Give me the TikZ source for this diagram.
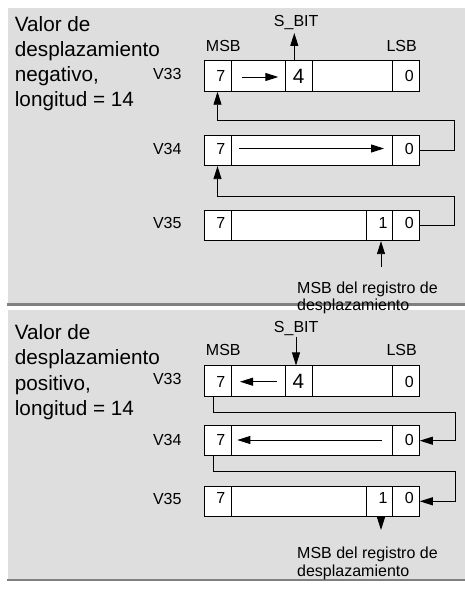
\documentclass[tikz,border=0pt]{standalone}
\usepackage{fontspec}
\setmainfont{Liberation Sans}
\usetikzlibrary{arrows.meta}
\definecolor{panelgray}{HTML}{DEDEDE}
\definecolor{sepgray}{HTML}{808080}
\begin{document}
\begin{tikzpicture}[x=1pt,y=-1pt,
  cell/.style={draw, fill=white, line width=1pt, inner sep=0pt, minimum height=30.5pt},
  bigtxt/.style={font=\fontsize{20.7}{25}\selectfont, inner sep=0pt, anchor=base west},
  smalltxt/.style={font=\fontsize{16}{19.4}\selectfont, inner sep=0pt},
  bigdig/.style={font=\fontsize{20.7}{25}\selectfont, inner sep=0pt},
  arr/.style={line width=0.9pt, -{Triangle[length=13pt,width=8pt]}},
  sepline/.style={sepgray, line width=2.6pt}]
\useasboundingbox (0,0) rectangle (465,591);
% panels
\fill[panelgray] (8,8) rectangle (465,303.4);
\draw[sepline] (7,304.7) -- (465,304.7);
\fill[panelgray] (8,310) rectangle (465,578.6);
\draw[sepline] (7,579.8) -- (465,579.8);

% ================= Panel 1 =================
\node[bigtxt] (t1a) at (14.7,31.7) {Valor de};
\node[bigtxt] (t1b) at (14.7,56.7) {desplazamiento};
\node[bigtxt] (t1c) at (14.7,81.7) {negativo,};
\node[bigtxt] (t1d) at (14.7,106.7) {longitud = 14};

\node[smalltxt, anchor=base] (sb1) at (296.2,26.7) {S\_BIT};
\node[smalltxt] (msb1) at (223.3,45.9) {MSB};
\node[smalltxt] (lsb1) at (401.7,45.9) {LSB};
\node[smalltxt, anchor=east] (v331) at (181.7,74.2) {V33};
\node[smalltxt, anchor=east] (v341) at (181.7,148.8) {V34};
\node[smalltxt, anchor=east] (v351) at (181.7,222.8) {V35};

% V33
\node[cell, minimum width=27pt] (p1a7) at (217.5,76) {};
\node[cell, minimum width=54pt] (p1aM) at (258,76) {};
\node[cell, minimum width=27pt] (p1a4) at (298.5,76) {};
\node[cell, minimum width=80.5pt] (p1aB) at (352.25,76) {};
\node[cell, minimum width=26.8pt] (p1a0) at (405.9,76) {};
\node[smalltxt] (d1a7) at (220.7,76) {7};
\node[bigdig] (d1a4) at (298.7,76) {4};
\node[smalltxt] (d1a0) at (409.2,76) {0};
% V34
\node[cell, minimum width=27pt] (p1b7) at (217.5,150.4) {};
\node[cell, minimum width=161.5pt] (p1bM) at (311.75,150.4) {};
\node[cell, minimum width=26.8pt] (p1b0) at (405.9,150.4) {};
\node[smalltxt] (d1b7) at (220.7,148.8) {7};
\node[smalltxt] (d1b0) at (409.2,148.8) {0};
% V35
\node[cell, minimum width=27pt] (p1c7) at (217.5,225.4) {};
\node[cell, minimum width=135.7pt] (p1cM) at (298.85,225.4) {};
\node[cell, minimum width=25.8pt] (p1c1) at (379.6,225.4) {};
\node[cell, minimum width=26.8pt] (p1c0) at (405.9,225.4) {};
\node[smalltxt] (d1c7) at (220.7,222.6) {7};
\node[smalltxt] (d1c1) at (383,222.6) {1};
\node[smalltxt] (d1c0) at (409.2,222.6) {0};

\coordinate (s1t) at (294.3,33);
\draw[arr] (p1a4.north -| s1t) -- (s1t);
\coordinate (i1a) at (241.7,77);
\coordinate (i1b) at (278.3,77);
\draw[arr] (i1a) -- (i1b);
\coordinate (i1c) at (239.3,148.5);
\coordinate (i1d) at (384,148.5);
\draw[arr] (i1c) -- (i1d);
\coordinate (k1) at (454,120);
\draw[arr] (p1b0.east) -| (k1) -| (p1a7.south);
\coordinate (k2) at (454,196);
\draw[arr] (p1c0.east) -| (k2) -| (p1b7.south);
\coordinate (m1) at (381,266.7);
\draw[arr] (m1) -- (m1 |- p1c1.south);

\node[smalltxt, anchor=base west] (n1a) at (297,293.3) {MSB del registro de};
\node[smalltxt, anchor=base west] (n1b) at (297,310.6) {desplazamiento};

% ================= Panel 2 =================
\node[bigtxt] (t2a) at (14.7,339) {Valor de};
\node[bigtxt] (t2b) at (14.7,364.5) {desplazamiento};
\node[bigtxt] (t2c) at (14.7,390) {positivo,};
\node[bigtxt] (t2d) at (14.7,415.5) {longitud = 14};

\node[smalltxt, anchor=base] (sb2) at (296.2,332) {S\_BIT};
\node[smalltxt] (msb2) at (223.3,350) {MSB};
\node[smalltxt] (lsb2) at (401.7,350) {LSB};
\node[smalltxt, anchor=east] (v332) at (181.7,379.2) {V33};
\node[smalltxt, anchor=east] (v342) at (181.7,440.3) {V34};
\node[smalltxt, anchor=east] (v352) at (181.7,498.8) {V35};

% V33
\node[cell, minimum width=27pt] (p2a7) at (217.5,381.2) {};
\node[cell, minimum width=54pt] (p2aM) at (258,381.2) {};
\node[cell, minimum width=27pt] (p2a4) at (298.5,381.2) {};
\node[cell, minimum width=80.5pt] (p2aB) at (352.25,381.2) {};
\node[cell, minimum width=26.8pt] (p2a0) at (405.9,381.2) {};
\node[smalltxt] (d2a7) at (220.7,382) {7};
\node[bigdig] (d2a4) at (298.5,381) {4};
\node[smalltxt] (d2a0) at (409.2,382) {0};
% V34
\node[cell, minimum width=27pt] (p2b7) at (217.5,440.7) {};
\node[cell, minimum width=161.5pt] (p2bM) at (311.75,440.7) {};
\node[cell, minimum width=26.8pt] (p2b0) at (405.9,440.7) {};
\node[smalltxt] (d2b7) at (220.7,439.5) {7};
\node[smalltxt] (d2b0) at (409.2,439.5) {0};
% V35
\node[cell, minimum width=27pt] (p2c7) at (217.5,501.3) {};
\node[cell, minimum width=135.7pt] (p2cM) at (298.85,501.3) {};
\node[cell, minimum width=25.8pt] (p2c1) at (379.6,501.3) {};
\node[cell, minimum width=26.8pt] (p2c0) at (405.9,501.3) {};
\node[smalltxt] (d2c7) at (220.7,497.8) {7};
\node[smalltxt] (d2c1) at (383,497.8) {1};
\node[smalltxt] (d2c0) at (409.2,497.8) {0};

\coordinate (s2t) at (296,336.7);
\draw[arr] (s2t) -- (s2t |- p2a4.north);
\coordinate (i2a) at (276.7,381.7);
\coordinate (i2b) at (240,381.7);
\draw[arr] (i2a) -- (i2b);
\coordinate (i2c) at (381.7,440);
\coordinate (i2d) at (237.3,440);
\draw[arr] (i2c) -- (i2d);
\coordinate (k3) at (455,412.7);
\draw[arr] ([xshift=-3.8pt]p2a7.south) |- (k3) |- (p2b0.east);
\coordinate (k4) at (455,471);
\draw[arr] ([xshift=-3.8pt]p2b7.south) |- (k4) |- (p2c0.east);
\coordinate (m2) at (381,530);
\draw[arr] (m2 |- p2c1.south) -- (m2);

\node[smalltxt, anchor=base west] (n2a) at (297,558.3) {MSB del registro de};
\node[smalltxt, anchor=base west] (n2b) at (297,576.2) {desplazamiento};
\end{tikzpicture}
\end{document}
